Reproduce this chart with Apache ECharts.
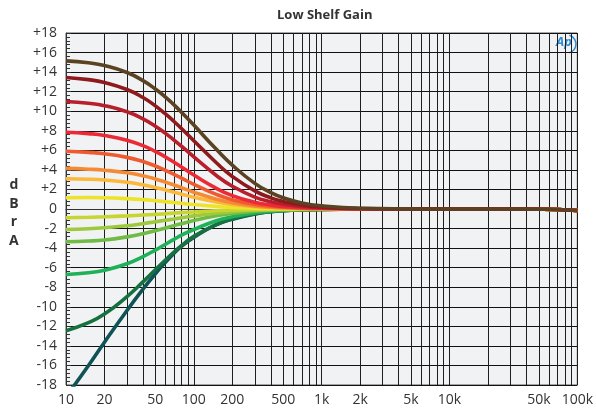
<!DOCTYPE html>
<html><head><meta charset="utf-8">
<script src="https://cdn.jsdelivr.net/npm/echarts@6/dist/echarts.min.js"></script>
<style>html,body{margin:0;padding:0;background:#fff}#c{width:596px;height:414px}</style>
</head><body><div id="c"></div>
<script>
// Frequencies (Hz) at which the curves were read
const freqs = [10,15,20,30,40,50,60,70,80,100,150,200,300,400,500,700,1000,2000,5000,10000,20000,50000,70000,100000];

// Gain curves (dBrA), top to bottom
const gBrown     = [15.15,14.95,14.67,13.96,13.13,12.28,11.45,10.65,9.9,8.58,6.1,4.48,2.62,1.68,1.15,0.62,0.32,0.08,0.015,0,0,-0.02,-0.05,-0.15];
const gDarkRed   = [13.45,13.23,12.94,12.22,11.4,10.55,9.72,8.95,8.23,6.98,4.73,3.33,1.85,1.14,0.77,0.41,0.2,0.05,0.01,0,0,-0.02,-0.05,-0.15];
const gRed       = [11.0,10.81,10.57,9.94,9.22,8.47,7.74,7.05,6.42,5.33,3.43,2.33,1.22,0.74,0.49,0.26,0.13,0.03,0.01,0,0,-0.02,-0.05,-0.15];
const gBrightRed = [7.85,7.71,7.52,7.04,6.48,5.89,5.32,4.78,4.3,3.47,2.11,1.37,0.69,0.41,0.26,0.14,0.07,0.02,0,0,0,-0.02,-0.05,-0.15];
const gOrangeRed = [5.9,5.79,5.65,5.28,4.85,4.4,3.95,3.54,3.16,2.52,1.49,0.95,0.47,0.28,0.18,0.09,0.05,0.01,0,0,0,-0.02,-0.05,-0.15];
const gOrange    = [4.15,4.07,3.97,3.71,3.4,3.07,2.75,2.45,2.18,1.72,1.0,0.63,0.31,0.18,0.12,0.06,0.03,0.01,0,0,0,-0.02,-0.05,-0.15];
const gLtOrange  = [3.1,3.05,2.96,2.74,2.47,2.2,1.95,1.72,1.52,1.2,0.71,0.46,0.24,0.14,0.09,0.05,0.02,0,0,0,0,-0.02,-0.05,-0.15];
const gYellow    = [1.15,1.17,1.15,1.06,0.96,0.85,0.75,0.66,0.58,0.46,0.27,0.17,0.09,0.05,0.03,0.02,0.01,0,0,0,0,-0.02,-0.05,-0.15];
const gYelGreen  = [-0.9,-0.85,-0.8,-0.7,-0.62,-0.55,-0.48,-0.42,-0.37,-0.3,-0.18,-0.11,-0.05,-0.03,-0.02,-0.01,0,0,0,0,0,-0.02,-0.05,-0.15];
const gLtGreen   = [-2.1,-2.02,-1.92,-1.72,-1.5,-1.3,-1.15,-1.02,-0.9,-0.7,-0.42,-0.27,-0.13,-0.08,-0.05,-0.03,-0.01,0,0,0,0,-0.02,-0.05,-0.15];
const gGreen     = [-3.35,-3.28,-3.17,-2.85,-2.53,-2.22,-1.95,-1.7,-1.5,-1.18,-0.7,-0.45,-0.22,-0.13,-0.08,-0.04,-0.02,0,0,0,0,-0.02,-0.05,-0.15];
const gGreen2    = [-6.7,-6.52,-6.27,-5.6,-4.87,-4.2,-3.6,-3.1,-2.68,-2.1,-1.2,-0.8,-0.4,-0.24,-0.15,-0.08,-0.04,-0.01,0,0,0,-0.02,-0.05,-0.15];
const gDarkGreen = [-12.45,-11.62,-10.75,-8.96,-7.45,-6.21,-5.22,-4.41,-3.76,-2.8,-1.6,-1.0,-0.5,-0.27,-0.17,-0.09,-0.04,-0.01,0,0,0,-0.02,-0.05,-0.15];
const gTeal      = [-19.2,-16.0,-13.62,-10.38,-8.2,-6.62,-5.44,-4.53,-3.81,-2.9,-1.6,-1.05,-0.5,-0.28,-0.17,-0.08,-0.04,-0.01,0,0,0,-0.02,-0.05,-0.15];

// Axis tick/grid values
const gridFreqs = [10,20,30,40,50,60,70,80,90,100,200,300,400,500,600,700,800,900,1000,2000,3000,4000,5000,6000,7000,8000,9000,10000,20000,30000,40000,50000,60000,70000,80000,90000,100000];
const labelFreqs = [10,20,50,100,200,500,1000,2000,5000,10000,50000,100000];

const curves = [
  {name:'teal', data:gTeal, color:'#0f5357'},
  {name:'darkGreen', data:gDarkGreen, color:'#16703f'},
  {name:'green2', data:gGreen2, color:'#1fb05a'},
  {name:'green', data:gGreen, color:'#6fbb45'},
  {name:'ltGreen', data:gLtGreen, color:'#9ec93d'},
  {name:'yelGreen', data:gYelGreen, color:'#c8d430'},
  {name:'yellow', data:gYellow, color:'#ede42a'},
  {name:'ltOrange', data:gLtOrange, color:'#fbb83a'},
  {name:'orange', data:gOrange, color:'#f58a35'},
  {name:'orangeRed', data:gOrangeRed, color:'#ef5a30'},
  {name:'brightRed', data:gBrightRed, color:'#ec2a36'},
  {name:'red', data:gRed, color:'#b81f2c'},
  {name:'darkRed', data:gDarkRed, color:'#8e1a1e'},
  {name:'brown', data:gBrown, color:'#5a4222'}
];

const chart = echarts.init(document.getElementById('c'), null, {renderer:'canvas'});
const FONT = 'Open Sans';
chart.setOption({
  animation:false,
  title:{text:'Low Shelf Gain', left:272, top:4, textStyle:{fontFamily:FONT, fontSize:13, fontWeight:'bold', color:'#333'}},
  grid:{left:66, right:16, top:33, bottom:29, show:true, backgroundColor:'#f1f2f4', borderColor:'#555', borderWidth:1},
  xAxis:{
    type:'log', logBase:10, min:10, max:100000,
    axisLine:{show:true, lineStyle:{color:'#333', width:1}},
    axisTick:{show:false, customValues:gridFreqs},
    axisLabel:{customValues:labelFreqs, fontFamily:FONT, fontSize:14, color:'#333', margin:8,
      formatter:v => v >= 1000 ? (v/1000)+'k' : String(v)},
    splitLine:{show:true, lineStyle:{color:'#1e1e1e', width:1}}
  },
  yAxis:{
    type:'value', min:-18, max:18, interval:2,
    axisLine:{show:true, lineStyle:{color:'#333', width:1}},
    axisTick:{show:true, inside:true, length:5, lineStyle:{color:'#333'}},
    minorTick:{show:true, splitNumber:5, length:4, lineStyle:{color:'#333'}},
    axisLabel:{fontFamily:FONT, fontSize:14, color:'#333', margin:9,
      formatter:v => v > 0 ? '+'+v : String(v)},
    splitLine:{show:true, lineStyle:{color:'#111', width:1}}
  },
  graphic:[
    {type:'text', left:9, top:176, style:{text:'d\nB\nr\nA', fontFamily:FONT, fontSize:14, fontWeight:'bold', fill:'#333', lineHeight:18.5, textAlign:'center'}},
    {type:'text', left:556, top:36, style:{text:'Ap', fontFamily:FONT, fontSize:13, fontStyle:'italic', fontWeight:'bold', fill:'#2f8ad0'}},
    {type:'arc', shape:{cx:567, cy:44, r:9, startAngle:-1.3, endAngle:1.3}, style:{stroke:'#2f8ad0', fill:null, lineWidth:1.5}}
  ],
  series: curves.map(c => ({
    type:'line', name:c.name, smooth:0.5, symbol:'none',
    data: freqs.map((f,i) => [f, c.data[i]]),
    lineStyle:{color:c.color, width:3.6},
    z: 3
  }))
});
</script></body></html>
